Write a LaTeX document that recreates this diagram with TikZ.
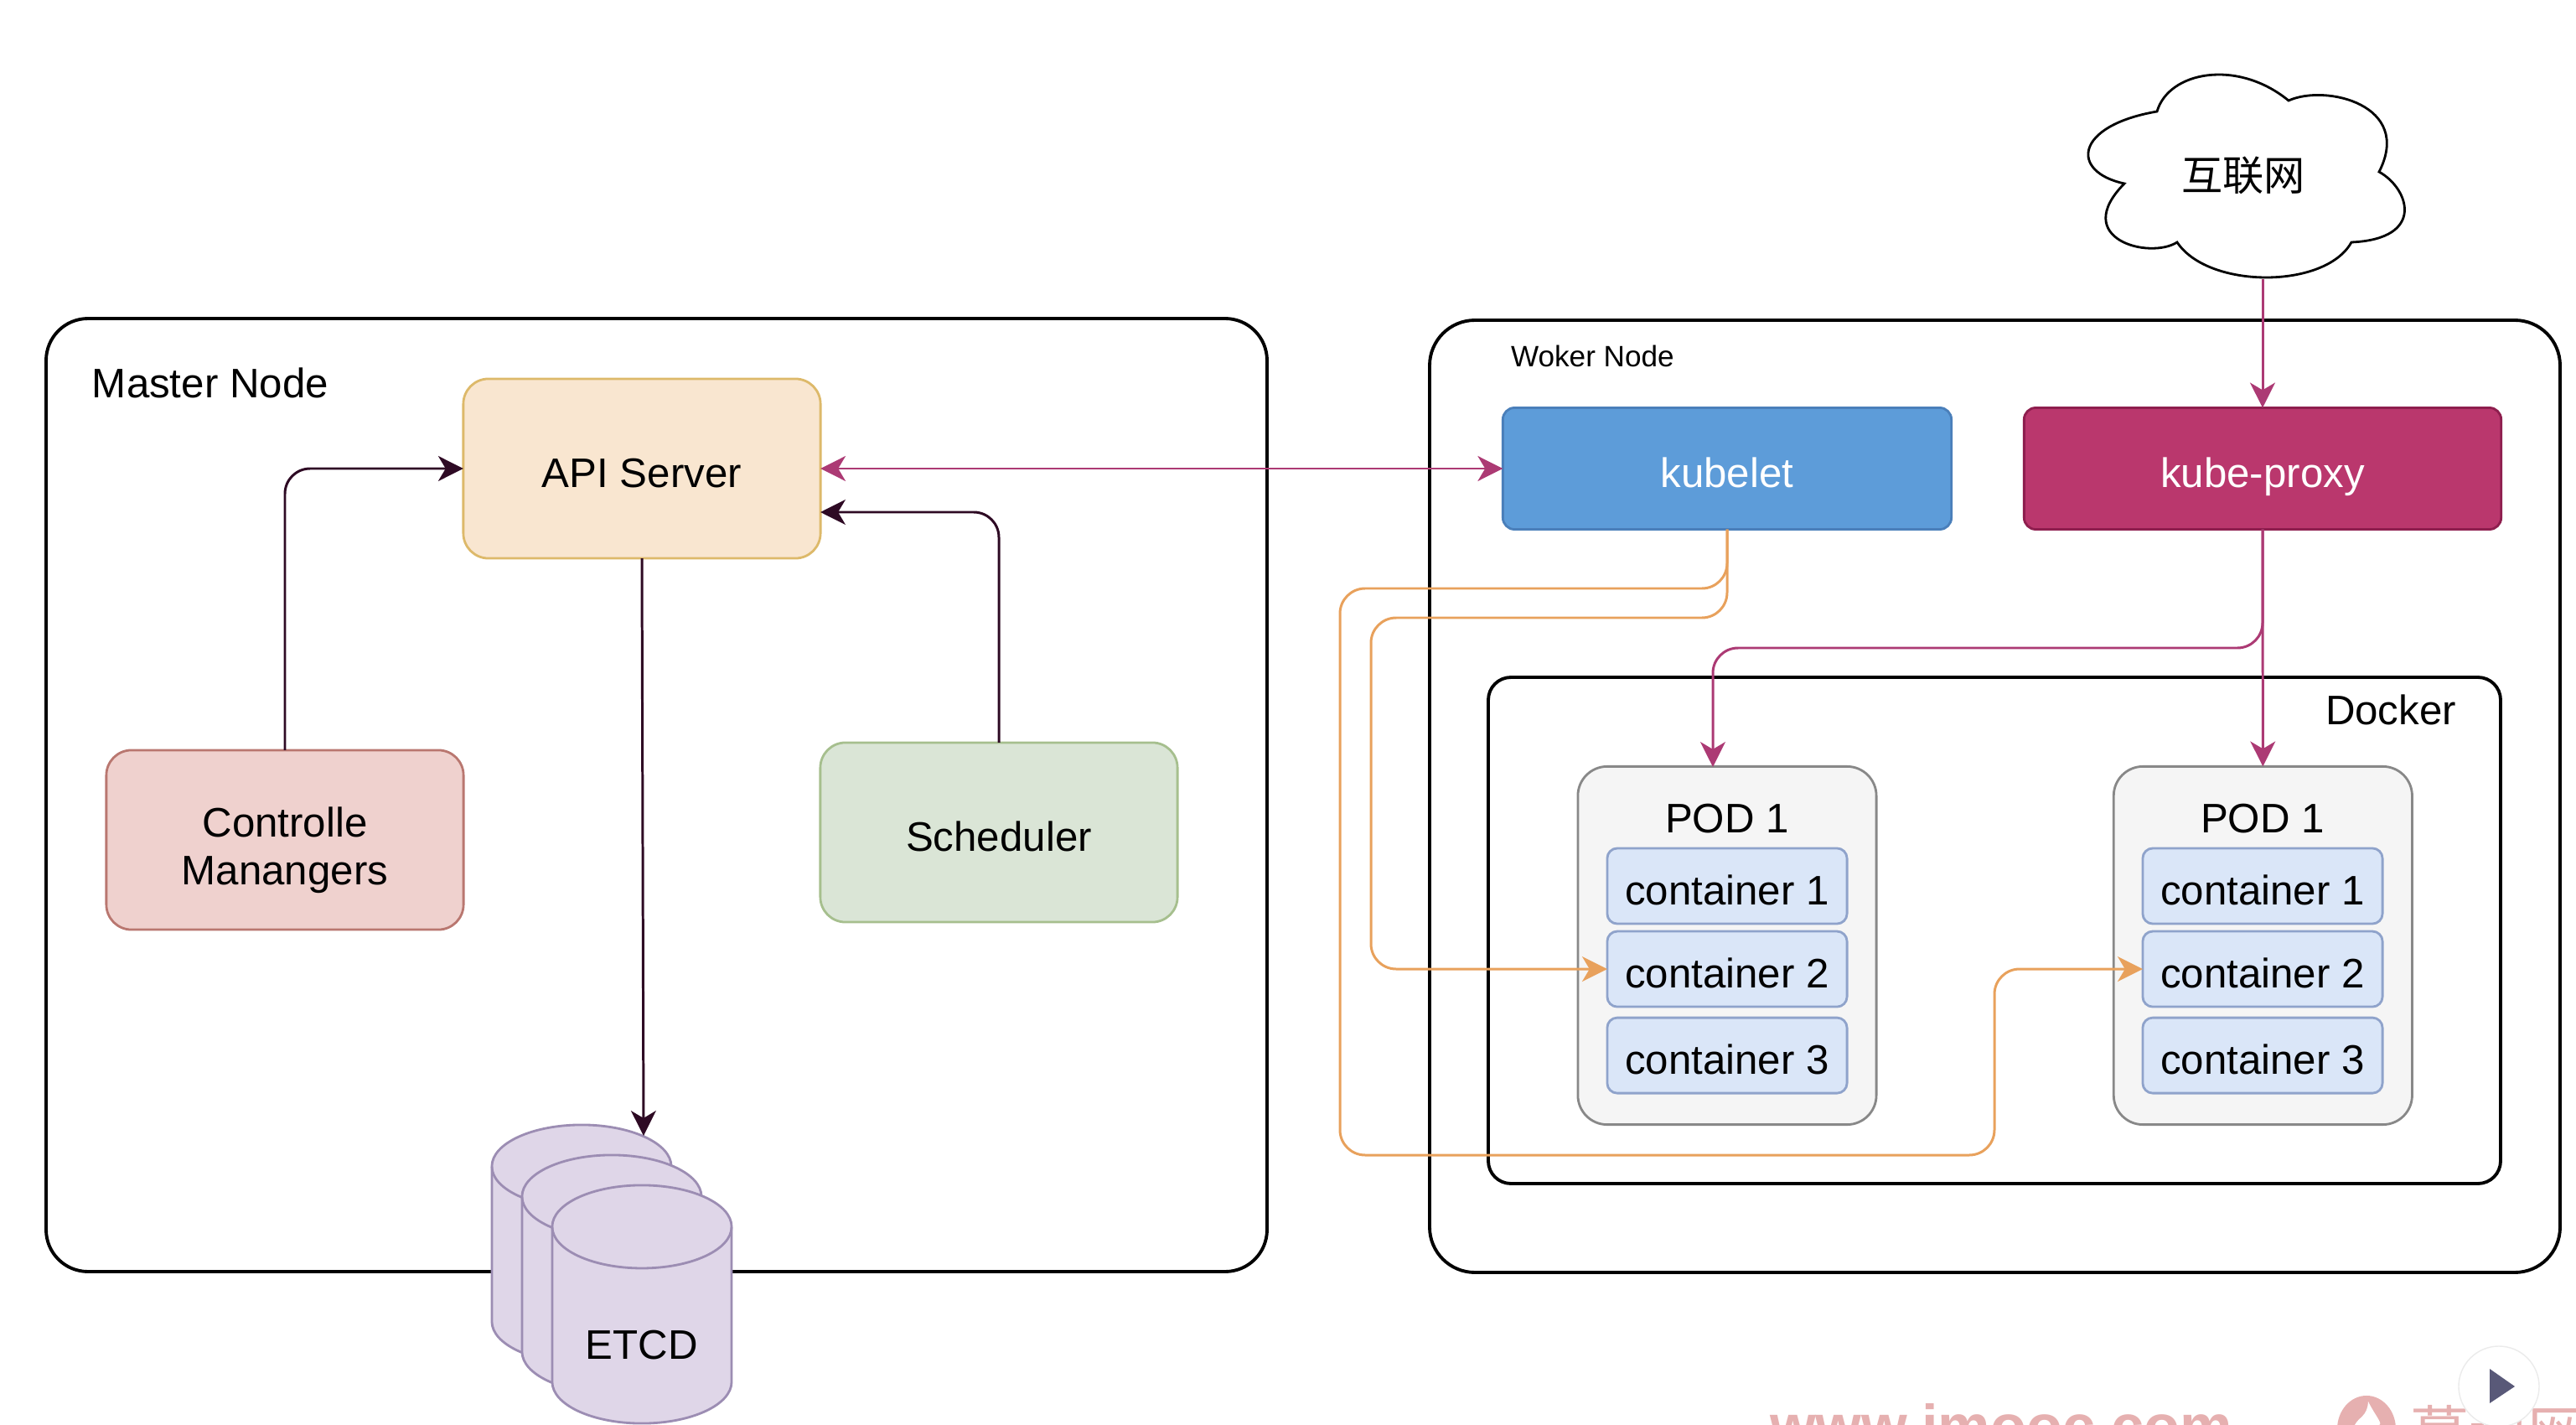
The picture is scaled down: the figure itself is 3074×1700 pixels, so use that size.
\documentclass[tikz,border=0pt]{standalone}
\usepackage{fontspec}
\setmainfont{Liberation Sans}
\newfontfamily\cjkfont{Noto Sans CJK SC}
\usepackage{tikz}
\usetikzlibrary{shapes, arrows.meta, positioning, shapes.geometric}

\definecolor{linemagenta}{HTML}{AC3A74}
\definecolor{lineorange}{HTML}{E8A15C}
\definecolor{linedark}{HTML}{2E0A24}
\definecolor{markpink}{HTML}{E6B0B0}

\newcommand{\drawdrum}[1]{%
    \draw[drumline] ([yshift=-0.495cm]#1.north west) arc[x radius=1.07cm, y radius=0.495cm, start angle=180, end angle=0]
        -- ([yshift=0.495cm]#1.south east) arc[x radius=1.07cm, y radius=0.495cm, start angle=0, end angle=-180] -- cycle;
    \draw[drumline, fill=none] ([yshift=-0.495cm]#1.north west) arc[x radius=1.07cm, y radius=0.495cm, start angle=180, end angle=360];
}

\begin{document}
\begin{tikzpicture}[
            x=0.01cm, y=-0.01cm,
            every node/.style={font=\fontsize{14}{16.2}\selectfont, align=center, inner sep=0pt, outer sep=0pt},
            group/.style={draw, line width=1.1pt},
            boxtext/.style={text height=13.4pt, text depth=0.8pt},
            master/.style={draw, boxtext, minimum width=4.26cm, minimum height=2.14cm, rounded corners=0.3cm, line width=0.8pt},
            small/.style={draw, boxtext, line width=0.8pt, rounded corners=0.14cm, minimum height=1.45cm, text=white},
            pod/.style={draw={rgb,255:red,136;green,136;blue,136}, fill={rgb,255:red,245;green,245;blue,245}, line width=0.8pt, rounded corners=0.35cm, minimum width=3.56cm, minimum height=4.27cm},
            container/.style={draw={rgb,255:red,143;green,163;blue,203}, fill={rgb,255:red,218;green,230;blue,248}, boxtext, line width=0.8pt, rounded corners=0.12cm, minimum width=2.86cm, minimum height=0.9cm},
            database/.style={minimum width=2.14cm, minimum height=2.84cm},
            drumline/.style={draw={rgb,255:red,156;green,141;blue,179}, fill={rgb,255:red,223;green,214;blue,232}, line width=0.8pt},
            arrow1/.style={-{Stealth[length=8.5pt, width=8.5pt, inset=2.5pt]}, line width=0.85pt, rounded corners=0.3cm},
            arrow2/.style={{Stealth[length=8.5pt, width=8.5pt, inset=2.5pt]}-{Stealth[length=8.5pt, width=8.5pt, inset=2.5pt]}, line width=0.85pt},
            watermark/.style={text=markpink, anchor=base west, font=\fontsize{20}{24}\selectfont\bfseries},
        ]
            \useasboundingbox (0,0) rectangle (3074,1700);

            % Groups
            \draw[group, rounded corners=0.5cm] (55,380) rectangle (1512,1517);
            \draw[group, rounded corners=0.54cm] (1706,382) rectangle (3055,1518);
            \draw[group, rounded corners=0.27cm] (1776,808) rectangle (2984,1412);
            \node[anchor=west] (masterlabel) at (110,457) {Master Node};
            \node[anchor=west, font=\fontsize{10}{12}\selectfont] (workerlabel) at (1803,425) {Woker Node};
            \node[anchor=east] (dockerlabel) at (2931,847) {Docker};

            % Nodes
            \node[master, draw={rgb,255:red,221;green,185;blue,106}, fill={rgb,255:red,249;green,230;blue,208}] (api) at (766,559) {API Server};
            \node[master, text height=31pt, draw={rgb,255:red,185;green,119;blue,112}, fill={rgb,255:red,239;green,209;blue,206}] (ctrl) at (340,1002) {Controlle\\Manangers};
            \node[master, draw={rgb,255:red,166;green,191;blue,142}, fill={rgb,255:red,218;green,229;blue,214}] (sched) at (1192,993) {Scheduler};
            \node[small, draw={rgb,255:red,74;green,127;blue,186}, fill={rgb,255:red,93;green,156;blue,217}, minimum width=5.35cm] (kubelet) at (2061,559) {kubelet};
            \node[small, draw={rgb,255:red,142;green,30;blue,78}, fill={rgb,255:red,186;green,55;blue,109}, minimum width=5.69cm] (proxy) at (2700,559) {kube-proxy};
            \draw[line width=0.8pt, fill=white] (2574,133) .. controls (2588,85) and (2670,70) .. (2731,120)
                .. controls (2775,100) and (2880,125) .. (2839,205)
                .. controls (2875,225) and (2895,285) .. (2806,289)
                .. controls (2775,345) and (2635,345) .. (2598,289)
                .. controls (2565,310) and (2470,285) .. (2535,219)
                .. controls (2470,205) and (2475,150) .. (2574,133) -- cycle;
            \node (internet) at (2677,209) {\cjkfont 互联网};

            % Pods
            \node[pod] (podA) at (2061,1128) {};
            \node[pod, right=2.83cm of podA] (podB) {};
            \node (podAlabel) at (2061,977) {POD 1};
            \node[container] (c1A) at (2061,1057) {container 1};
            \node[container, below=0.09cm of c1A] (c2A) {container 2};
            \node[container, below=0.13cm of c2A] (c3A) {container 3};
            \node (podBlabel) at (2700,977) {POD 1};
            \node[container] (c1B) at (2700,1057) {container 1};
            \node[container, below=0.09cm of c1B] (c2B) {container 2};
            \node[container, below=0.13cm of c2B] (c3B) {container 3};

            % ETCD
            \node[database] (etcdA) at (694,1484) {};
            \node[database] (etcdB) at (730,1520) {};
            \node[database] (etcdC) at (766,1556) {};
            \drawdrum{etcdA}
            \drawdrum{etcdB}
            \drawdrum{etcdC}
            \node (etcdlabel) at (766,1605) {ETCD};

            % Footer
            \node[watermark] (wwwmark) at (2112,1725) {www.imooc.com};
            \node[ellipse, fill=markpink, minimum width=0.7cm, minimum height=0.8cm] (flame) at (2824,1705) {};
            \fill[white] (2826,1672) .. controls (2835,1690) and (2845,1700) .. (2838,1700) -- (2810,1700) .. controls (2815,1690) and (2825,1690) .. (2826,1672) -- cycle;
            \node[watermark, font=\fontsize{20}{24}\selectfont\cjkfont] (cnmark) at (2876,1735) {慕课网};
            \node[circle, fill=white, draw=black!8, minimum size=0.96cm] (play) at (2982,1654) {};
            \fill[black!60!blue!30!gray] (2971,1633) -- (3001,1654) -- (2971,1674) -- cycle;

            % Arrows
            \coordinate (schedin) at (979,611);
            \coordinate (etcdin) at (768,1355);
            \coordinate (cloudout) at (2700,333);
            \draw[arrow1, linedark] (ctrl.north) |- (api.west);
            \draw[arrow1, linedark] (sched.north) |- (schedin);
            \draw[arrow1, linedark] (api.south) -- (etcdin);
            \draw[arrow2, linemagenta] (api.east) -- (kubelet.west);
            \draw[arrow1, linemagenta] (cloudout) -- (proxy.north);
            \draw[arrow1, linemagenta] (proxy.south) -- (podB.north);
            \draw[arrow1, linemagenta] (proxy.south) -- (2700,773) -- (2044,773) -- (2044,915);
            \draw[arrow1, lineorange] (kubelet.south) -- (2061,737) -- (1636,737) -- (1636,1156) -- (c2A.west);
            \draw[arrow1, lineorange] (kubelet.south) -- (2061,702) -- (1599,702) -- (1599,1378) -- (2380,1378) -- (2380,1156) -- (c2B.west);
        \end{tikzpicture}
\end{document}
